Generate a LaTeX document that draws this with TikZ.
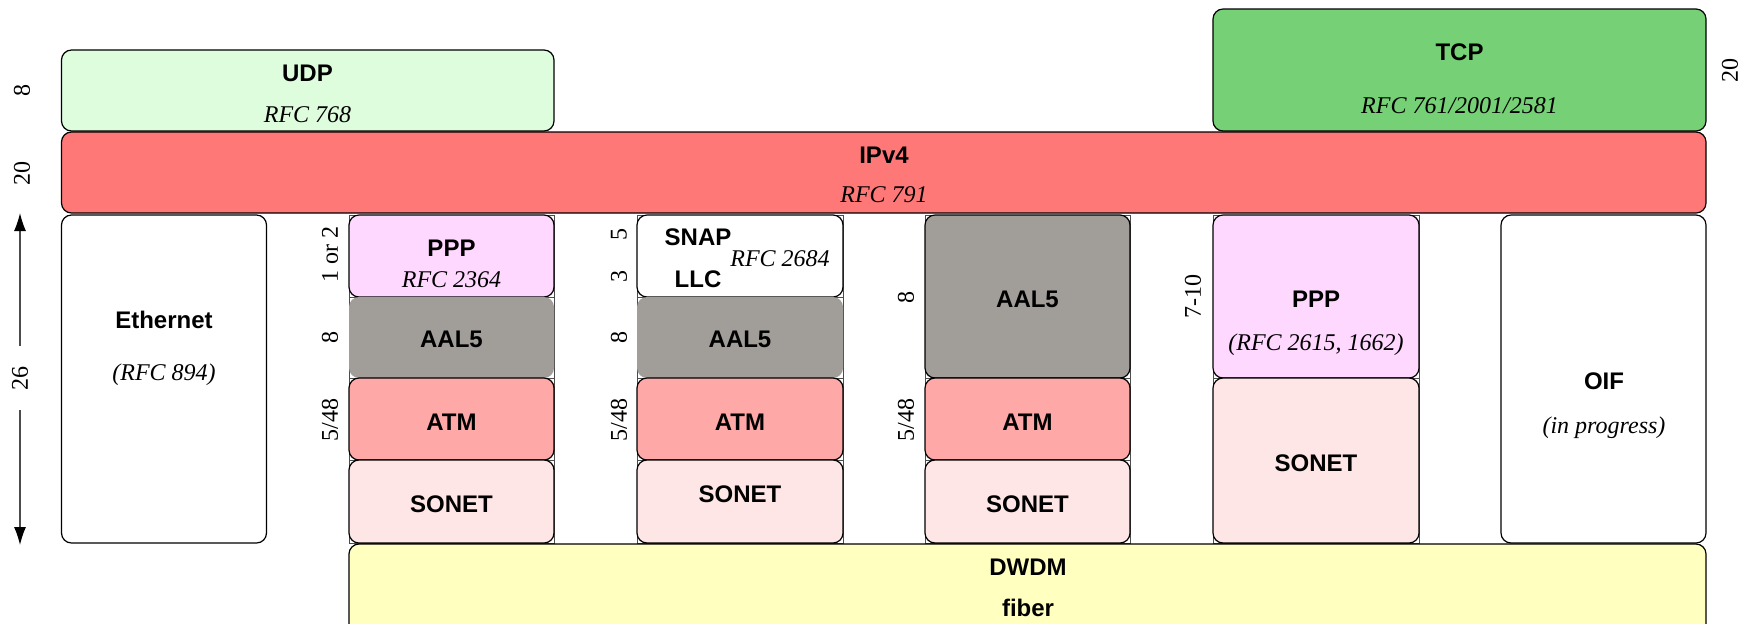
\documentclass[tikz,border=0pt]{standalone}
\usepackage{fontspec}
\setmainfont{Liberation Serif}
\setsansfont{Liberation Sans}
\usetikzlibrary{fit,arrows.meta}
\definecolor{udpc}{HTML}{DDFDDD}
\definecolor{tcpc}{HTML}{76D076}
\definecolor{ipc}{HTML}{FF7878}
\definecolor{pppc}{HTML}{FFD8FF}
\definecolor{aalc}{HTML}{A19D99}
\definecolor{atmc}{HTML}{FFA8A8}
\definecolor{sonc}{HTML}{FFE6E6}
\definecolor{dwdmc}{HTML}{FFFFC0}
\begin{document}
\begin{tikzpicture}[x=0.5pt,y=-0.5pt,
  lay/.style={rectangle,rounded corners=5pt,draw=black,line width=0.6pt,inner sep=0pt,outer sep=0pt},
  frm/.style={draw=black!70,line width=0.5pt},
  ttl/.style={font=\fontsize{12}{14}\selectfont\sffamily\bfseries,anchor=base,inner sep=0pt},
  rfc/.style={font=\fontsize{12}{14}\selectfont\rmfamily\itshape,anchor=base,inner sep=0pt},
  num/.style={font=\fontsize{12}{14}\selectfont\rmfamily\upshape,rotate=90,inner sep=0pt},
  dim/.style={draw=black!70,line width=0.6pt,-{Latex[length=9pt,width=6pt,color=black]}}]
\clip (0,0) rectangle (1756,623);
% frames of stacked columns
\foreach \xa/\xb in {349/554,637/843}{
  \foreach \ya/\yb in {215/297,297/378,378/460,460/543}{
    \draw[frm] (\xa,\ya) rectangle (\xb,\yb);}}
\foreach \ya/\yb in {215/378,378/460,460/543}{\draw[frm] (925,\ya) rectangle (1130,\yb);}
\foreach \ya/\yb in {215/378,378/543}{\draw[frm] (1213,\ya) rectangle (1419,\yb);}
% top layers
\node[lay,fill=udpc,fit={(61.5,50)(554,131)}] (udp) {};
\node[lay,fill=tcpc,fit={(1213,9)(1706,131)}] (tcp) {};
\node[lay,fill=ipc,fit={(61.5,132)(1706,213)}] (ip) {};
% ethernet and OIF
\node[lay,fill=white,fit={(61.5,215)(266.5,543)}] (eth) {};
\node[lay,fill=white,fit={(1501,215)(1706,543)}] (oif) {};
% column 1
\node[lay,fill=pppc,fit={(349,215)(554,297)}] (ppp1) {};
\node[lay,draw=none,fill=aalc,fit={(349,297)(554,378)}] (aal1) {};
\node[lay,fill=atmc,fit={(349,378)(554,460)}] (atm1) {};
\node[lay,fill=sonc,fit={(349,460)(554,543)}] (son1) {};
% column 2
\node[lay,fill=white,fit={(637,215)(843,297)}] (snap2) {};
\node[lay,draw=none,fill=aalc,fit={(637,297)(843,378)}] (aal2) {};
\node[lay,fill=atmc,fit={(637,378)(843,460)}] (atm2) {};
\node[lay,fill=sonc,fit={(637,460)(843,543)}] (son2) {};
% column 3
\node[lay,fill=aalc,fit={(925,215)(1130,378)}] (aal3) {};
\node[lay,fill=atmc,fit={(925,378)(1130,460)}] (atm3) {};
\node[lay,fill=sonc,fit={(925,460)(1130,543)}] (son3) {};
% column 4
\node[lay,fill=pppc,fit={(1213,215)(1419,378)}] (ppp4) {};
\node[lay,fill=sonc,fit={(1213,378)(1419,543)}] (son4) {};
% DWDM
\node[lay,fill=dwdmc,fit={(349,544)(1706,634)}] (dwdm) {};
% texts
\node[ttl] (tudp) at (307.5,81.5) {UDP};
\node[rfc] (rudp) at (307.5,122) {RFC 768};
\node[ttl] (ttcp) at (1459.5,60.5) {TCP};
\node[rfc] (rtcp) at (1459.5,113) {RFC 761/2001/2581};
\node[ttl] (tip) at (884,163) {IPv4};
\node[rfc] (rip) at (884,202) {RFC 791};
\node[ttl] (teth) at (164,328.5) {Ethernet};
\node[rfc] (reth) at (164,380) {(RFC 894)};
\node[ttl] (tppp1) at (451.5,256.5) {PPP};
\node[rfc] (rppp1) at (451.5,287) {RFC 2364};
\node[ttl] (taal1) at (451.5,347.5) {AAL5};
\node[ttl] (tatm1) at (451.5,430.5) {ATM};
\node[ttl] (tson1) at (451.5,512.5) {SONET};
\node[ttl] (tsnap) at (698,245.5) {SNAP};
\node[ttl] (tllc) at (698,287.5) {LLC};
\node[rfc] (rsnap) at (780,266) {RFC 2684};
\node[ttl] (taal2) at (740,347.5) {AAL5};
\node[ttl] (tatm2) at (740,430.5) {ATM};
\node[ttl] (tson2) at (740,502.5) {SONET};
\node[ttl] (taal3) at (1027.5,307.5) {AAL5};
\node[ttl] (tatm3) at (1027.5,430.5) {ATM};
\node[ttl] (tson3) at (1027.5,512.5) {SONET};
\node[ttl] (tppp4) at (1316,307.5) {PPP};
\node[rfc] (rppp4) at (1316,350) {(RFC 2615, 1662)};
\node[ttl] (tson4) at (1316,471.5) {SONET};
\node[ttl] (toif) at (1604,389.5) {OIF};
\node[rfc] (roif) at (1604,433) {(in progress)};
\node[ttl] (tdwdm) at (1028,575.5) {DWDM};
\node[ttl] (tfib) at (1028,616.5) {fiber};
% side numbers
\node[num] (n8) at (22,90) {8};
\node[num] (n20) at (22,173) {20};
\node[num] (n20r) at (1730,70) {20};
\node[num,inner xsep=9.75pt] (n26) at (20,378) {26};
\coordinate (atop) at (20,213);
\coordinate (abot) at (20,545);
\draw[dim] (n26) -- (atop);
\draw[dim] (n26) -- (abot);
\node[num] (c1a) at (330,254) {1 or 2};
\node[num] (c1b) at (330,337) {8};
\node[num] (c1c) at (330,420) {5/48};
\node[num] (c2a) at (619,234) {5};
\node[num] (c2b) at (619,276) {3};
\node[num] (c2c) at (619,337) {8};
\node[num] (c2d) at (619,420) {5/48};
\node[num] (c3a) at (906,297) {8};
\node[num] (c3b) at (906,420) {5/48};
\node[num] (c4a) at (1193,296) {7-10};
\end{tikzpicture}
\end{document}
